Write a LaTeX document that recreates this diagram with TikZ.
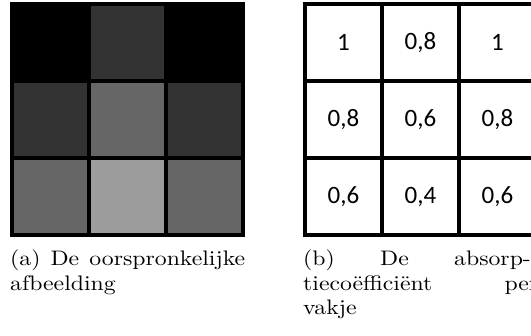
\documentclass[tikz,border=0pt]{standalone}
\usepackage{fontspec}
\usepackage{graphicx}
\newfontfamily\coeffont{Carlito}
\newfontfamily\capfont{lmroman10-regular}[Extension=.otf]
\usetikzlibrary{positioning}
% captions are a little wider than the text font
\newcommand{\capline}[2][208pt]{\scalebox{1.13}[1]{\hbox to #1{#2}}}
\newcommand{\caplast}[1]{\scalebox{1.13}[1]{#1}}
\tikzset{
  pixel/.style={draw=black, line width=4pt},
  coef/.style={font=\fontsize{25}{25}\selectfont\coeffont, inner sep=0pt},
  caption/.style={anchor=base west, inner sep=0pt, font=\capfont\fontsize{21}{24.2}\selectfont}
}

\begin{document}
\begin{tikzpicture}[x=1pt,y=-1pt]
  \useasboundingbox (0,0) rectangle (531,336);
  \foreach \vals [count=\r from 0] in {{1,0.8,1},{0.8,0.6,0.8},{0.6,0.4,0.6}}{
    \foreach \v [count=\c from 0] in \vals {
      \pgfmathtruncatemacro\k{100*\v}
      \draw[pixel, fill=black!\k] ({12+77*\c},{4+77*\r}) rectangle +(77,77);
      \draw[pixel, fill=white] ({305+77*\c},{4+77*\r}) rectangle +(77,77);
      \node[coef] (n\r\c) at ({343.5+77*\c},{42.5+77*\r})
        {\pgfmathprintnumber[use comma,assume math mode=true]{\v}};
    }
  }
  \node[caption] (capa1) at (10,266) {\capline{(a) De oorspronkelijke}};
  \node[caption] (capa2) at (10,290.2) {\caplast{afbeelding}};
  \node[caption] (capb1) at (303,266) {\capline[201.5pt]{(b)\hfill De\hfill absorp-}};
  \node[caption] (capb2) at (303,290.2) {\capline{tiecoëfficiënt\hfill per}};
  \node[caption] (capb3) at (303,314.4) {\caplast{vakje}};
\end{tikzpicture}
\end{document}
